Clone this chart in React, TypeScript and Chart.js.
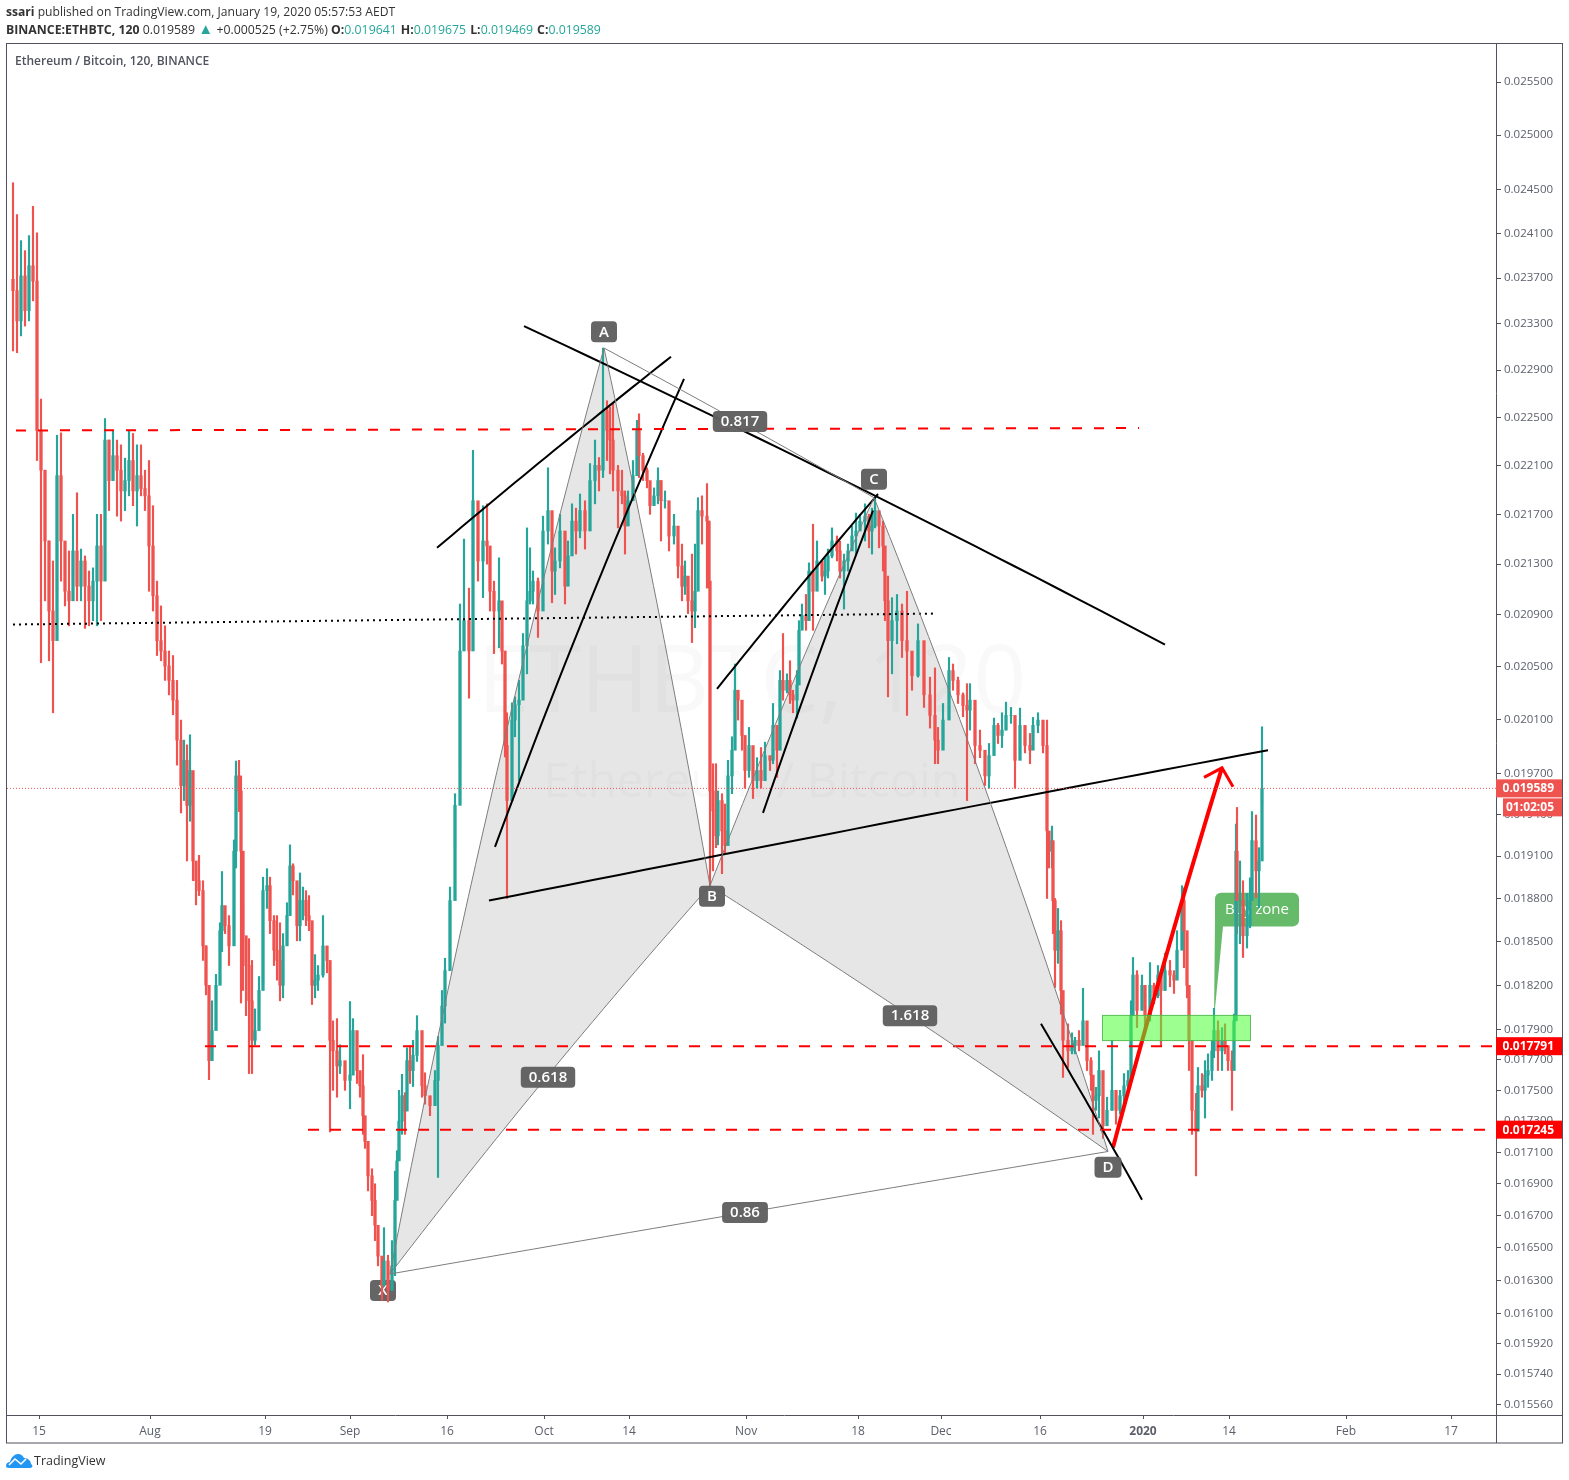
import React, { useEffect, useRef } from "react";
import { Chart, registerables } from "chart.js";
Chart.register(...registerables);

// Prices are in millionths of BTC. Time is in chart slots counted from 15 Jul 2019 (1 day = about 6.5 slots).
// Each candle row: [slot, high, low, close]; a candle opens at the previous close.
const julyRows = [
[-26,24560,23065,23590],[-22,24270,23050,23325],[-18,24035,23195,23720],[-14,23945,23280,23415],[-10,24080,23325,23810],[-6,24345,23500,23675],[-2,24105,22140,22390],[2,22655,20530,22060],[6,22060,21010,21485],[10,21485,20545,20930],[14,21325,20150,20700],[18,22350,21085,22015],[22,22370,21165,21485],[26,21405,20970,21085],[30,21405,20815,21010],[34,21700,21190,21405],[38,21875,21010,21125],[42,21420,21010,21325],[46,21365,20795,21125],[50,21245,20815,21010],[54,21270,20855,21165],[58,21700,20815,21445],[62,21700,20855,21165],[66,22490,21645,22310],[70,22310,21730,21975],[74,22390,21975,22180],[78,22310,21685,22060],[82,22270,21645,21890],[86,22160,21730,21975],[90,22390,21850,22140],[94,22365,21770,21890],[98,22270,21605,22015],[102,22270,21850,21910],
];
const augustRows = [
[106,22060,21730,21850],[110,22140,21085,21445],[114,21770,20930,21050],[118,21165,20585,20700],[122,20970,20545,20620],[126,20815,20395,20505],[130,20620,20285,20395],[134,20585,20135,20245],[138,20395,19760,19945],[142,20095,19410,19610],[145,19945,19500,19795],[148,19910,19065,19465],[151,19985,19350,19720],[154,19570,18925,19065],[157,19025,18755,18925],[160,19105,18820,18855],[164,18925,18370,18470],[167,18470,18135,18200],[170,18030,17570,17695],[173,18095,17735,17895],[177,18275,18070,18200],[181,18630,18430,18575],[183,18990,18430,18750],[186,18730,18555,18610],[190,18680,18335,18470],[195,19215,18600,19135],[197,19790,19015,19680],[200,19795,19420,19570],[202,19680,18080,19135],[204,18755,18165,18540],[207,18535,17995,18335],[210,18520,17610,18095],[213,18370,17610,17830],[216,18040,17800,17895],[220,18260,18070,18165],[224,18950,18215,18855],[228,19010,18730,18890],[231,18950,18555,18645],[235,18680,18335,18440],[238,18680,18235,18370],[241,18630,18095,18200],[244,18555,18115,18470],[248,18770,18480,18680],[251,19180,18785,19030],[254,19045,18825,18925],[258,18890,18505,18610],[261,18980,18505,18785],[264,18880,18650,18785],[267,18855,18610,18680],[270,18820,18575,18645],[273,18630,18070,18200],[276,18410,18115,18235],[279,18335,18165,18270],[284,18680,18255,18470],[288,18430,18285,18370],
];
const septemberRows = [
[291,18290,17230,17830],[294,17960,17500,17760],[298,17975,17455,17660],[301,17800,17610,17695],[306,17660,17500,17565],[311,18090,17380,17600],[314,17975,17800,17895],[318,17755,17545,17630],[321,17615,17455,17530],[324,17735,17215,17335],[326,17300,17125,17170],[329,17170,16855,16950],[333,16995,16700,16795],[336,16900,16545,16640],[339,16590,16390,16450],[343,16390,16180,16270],[345,16625,16265,16420],[349,16455,16170,16240],[353,16545,16325,16390],[356,16980,16330,16795],[358,17110,16970,17045],[360,17500,17060,17300],[363,17605,17215,17465],[366,17485,17215,17365],[368,17780,17455,17695],[371,17795,17545,17630],[374,17830,17525,17730],[378,17995,17690,17895],[383,17660,17455,17530],[386,17615,17410,17465],[391,17455,17335,17400],[396,17630,17455,17565],[399,17855,16940,17795],[403,18165,17855,18060],[406,18385,17945,18300],[411,18880,18365,18785],[416,19550,19160,19465],[421,20985,19740,20620],[425,21500,20645,20855],[430,21110,20260,20620],[434,22225,21165,21810],[439,21485,21165,21325],[444,21770,21035,21485],[448,21785,21300,21445],[451,21325,20930,21085],[455,21165,20600,20930],[460,21350,20645,21010],[463,20775,20520,20620],[466,20520,19820,19905],[468,20150,18800,19500],[473,20225,19890,20095],[476,20270,19970,20210],[480,20395,19645,20245],[484,20755,20520,20660],[488,21590,20445,21010],[491,21430,20985,21085],[494,21245,20985,21165],[499,21190,20725,20930],
];
const octoberRows = [
[504,21685,21300,21565],[509,22080,21460,21730],[513,21380,20995,21245],[516,21430,21060,21325],[521,21700,21270,21565],[526,21485,20985,21125],[529,21485,21220,21365],[533,21785,21460,21645],[537,21750,21380,21565],[541,21865,21510,21730],[546,21810,21420,21565],[551,22115,21700,21975],[556,22310,21785,22100],[560,22165,21890,22060],[564,23090,22000,22555],[568,22640,22140,22390],[571,22585,22030,22310],[574,22615,21890,22060],[579,22100,21590,21890],[583,22060,21785,21850],[586,21890,21380,21605],[589,21890,21620,21810],[594,22140,21865,22015],[598,22475,22080,22390],[600,22530,22000,22180],[604,22200,21975,22060],[608,22080,21915,21975],[611,21915,21700,21770],[615,21915,21785,21850],[619,22080,21785,21975],[622,21975,21485,21810],[626,21890,21750,21810],[630,21700,21405,21525],[635,21700,21460,21605],[639,21460,21190,21285],[643,21460,21010,21125],[646,21325,21060,21205],[649,21165,20910,21010],[653,21380,20685,20930],[656,21460,20800,21085],[659,21835,21350,21730],[663,21850,21460,21685],[668,21950,21110,21645],[670,21645,21110,21165],[671,21165,18890,19570],
];
const novemberRows = [
[674,19770,18995,19425],[677,19770,19160,19245],[679,19570,19180,19500],[683,19550,18975,19280],[686,19475,19120,19175],[689,19795,19260,19680],[693,19970,19550,19870],[696,20520,19970,20320],[699,20300,20095,20245],[703,20095,19870,19980],[706,19945,19590,19720],[710,20040,19670,19905],[714,19890,19515,19645],[718,19815,19590,19720],[722,19890,19590,19645],[726,19930,19660,19830],[731,19815,19720,19795],[734,20220,19770,20055],[738,20020,19670,19870],[741,20470,20170,20395],[744,20755,20245,20320],[748,20445,20300,20395],[751,20545,20220,20285],[754,20320,20150,20245],[758,20470,20110,20360],[760,20855,20470,20780],[763,20985,20800,20895],[767,21060,20780,20855],[770,21310,21085,21245],[774,21620,20780,21085],[778,21485,21190,21325],[783,21300,21165,21205],[786,21350,21060,21245],[789,21420,21190,21365],[793,21590,21350,21485],[798,21525,21325,21405],[801,21485,21190,21245],[805,21380,20945,21325],[809,21460,21245,21405],[813,21605,21430,21525],[817,21710,21380,21565],[821,21700,21590,21645],[826,21785,21485,21685],[830,21700,21430,21565],[833,21750,21380,21605],[836,21835,21590,21730],[840,21670,21430,21605],[844,21645,21245,21445],[846,21245,20855,21010],[849,21205,20270,20700],[853,21035,20445,20855],[858,21060,20675,20930],[863,20985,20570,20700],[868,21085,20130,20620],[873,20570,20320,20430],[879,20830,20420,20700],[885,20490,20190,20285],[891,20420,20035,20130],[896,20490,19770,19945],[899,20040,19770,19870],
];
const decemberRows = [
[904,20220,19890,20095],[910,20570,20270,20470],[914,20520,20320,20395],[919,20420,20220,20285],[924,20300,20120,20205],[928,20370,19500,20170],[931,20370,20020,20245],[936,20150,19770,19905],[941,20020,19815,19870],[946,19795,19610,19680],[950,19920,19590,19830],[955,20110,19945,20055],[959,20070,19920,19980],[963,20150,19890,20020],[967,20230,20020,20130],[972,20190,20070,20130],[976,19920,19590,19795],[981,20185,19850,20055],[986,19995,19850,19905],[991,19995,19770,19870],[994,20115,19970,20055],[999,20150,20000,20095],[1004,20040,19850,19905],[1008,20095,18800,19280],[1010,19260,19015,19135],[1013,19315,19015,19210],[1014,18995,18555,18785],[1016,18800,18185,18440],[1019,18730,18350,18575],[1022,18645,18005,18165],[1024,18005,17585,17830],[1029,17940,17650,17760],[1033,17880,17740,17795],[1036,17850,17740,17830],[1040,17895,17760,17795],[1044,18180,17830,17960],[1048,17830,17630,17695],[1052,17715,17500,17600],[1054,17545,17215,17435],[1057,17520,17370,17465],[1060,17760,17320,17630],[1064,17435,17190,17270],[1068,17455,17300,17370],[1073,17830,17370,17500],[1077,17435,17280,17370],[1081,17500,17345,17465],[1085,17610,17370,17530],[1089,17630,17480,17565],[1092,18095,17610,17995],[1094,18390,18045,18270],[1098,18300,17915,18030],
];
const januaryRows = [
[1103,18270,18115,18200],[1106,18145,17895,17995],[1111,18355,17960,18200],[1115,18215,18075,18130],[1119,18335,18115,18270],[1122,18215,17795,18165],[1126,18420,18165,18300],[1131,18370,18190,18270],[1135,18300,18145,18235],[1138,18575,18280,18440],[1143,18890,18455,18785],[1145,18875,18320,18575],[1148,18300,18115,18200],[1150,18095,17630,17830],[1153,17630,17215,17370],[1157,17480,16950,17235],[1159,17650,17320,17530],[1163,17610,17455,17500],[1166,17695,17320,17600],[1169,17740,17520,17630],[1173,17830,17565,17760],[1175,18045,17715,17895],[1179,17960,17630,17760],[1183,17915,17630,17830],[1186,17940,17740,17795],[1189,17740,17630,17695],[1193,17760,17370,17630],[1195,18005,17740,17960],[1197,19330,18005,19135],[1198,19450,18555,18785],[1201,19065,18485,18785],[1204,18925,18390,18540],[1208,18835,18455,18610],[1211,18945,18595,18785],[1213,19420,18805,19210],[1217,19395,18805,18995],[1220,19160,18735,19065],[1223,20045,19480,19589],
];

const priceTicks = [25500,25000,24500,24100,23700,23300,22900,22500,22100,21700,21300,20900,20500,20100,19700,19400,19100,18800,18500,18200,17900,17700,17500,17300,17100,16900,16700,16500,16300,16100,15920,15740,15560];
const timeTicks = [0,111,226,311,408,505,590,707,819,902,1001,1104,1190,1307,1412];
const timeLabels = ["15","Aug","19","Sep","16","Oct","14","Nov","18","Dec","16","2020","14","Feb","17"];

const lastPrice = 19589;
const supportHigh = 17791;
const supportLow = 17245;

const X = [351,16340], A = [565,23090], B = [671,18890], C = [835,21835], D = [1069,17105];
const labelBehindCandles = [["X",344,16240]] as [string,number,number][];
const patternLabels = [
  ["A",565,23230],["B",673,18815],["C",835,21985],["D",1069,17005],
  ["0.618",509,17585],["0.817",701,22465],["1.618",871,17995],["0.86",706,16720],
] as [string,number,number][];
const blackTrends = [
  [[485,23280],[1126,20670]],
  [[398,21430],[632,23015]],
  [[456,19165],[645,22825]],
  [[450,18785],[1229,19870]],
  [[678,20330],[839,21865]],
  [[724,19410],[834,21730]],
  [[1002,17940],[1103,16800]],
];
const resistanceLine = [[-23,22390],[1100,22410]];
const dottedLine = [[-26,20825],[894,20910]];
const supportHighLine = [[166,supportHigh],[1457,supportHigh]];
const supportLowLine = [[269,supportLow],[1457,supportLow]];
const lastPriceLine = [[-32,lastPrice],[1457,lastPrice]];
const arrowShaft = [[1074,17130],[1183,19740]];
const arrowHead = [[1165,19670],[1183,19740],[1194,19600]];
const buyZoneBox = [1063,1212,18000,17825];
const buyCallout = { left:1176, right:1260, top:18840, bottom:18605, tipX:1175, tipY:17975, tailX:1184 };

const UP = "#26a69a", DOWN = "#ef5350", AXIS = "#50535e", TEXT = "#5d606b";
const FONT = '"Open Sans", sans-serif';

const candleRows = [...julyRows,...augustRows,...septemberRows,...octoberRows,...novemberRows,...decemberRows,...januaryRows];

// a trend line drawn straight in price, as it is on the log axis
function priceLine(a:number[], b:number[]) {
  const out:{x:number,y:number}[] = [];
  for (let i=0;i<=30;i++) {
    const t=i/30;
    out.push({x:a[0]+(b[0]-a[0])*t, y:a[1]+(b[1]-a[1])*t});
  }
  return out;
}
const pts = (l:number[][]) => l.map(p=>({x:p[0],y:p[1]}));

function lineDs(data:any[], color:string, width:number, dash:number[]=[]) {
  return { type:"line", data, borderColor:color, borderWidth:width, borderDash:dash, pointRadius:0, tension:0, fill:false, order:1, parsing:true, borderCapStyle:"butt" };
}

function drawLabels(ctx:any, x:any, y:any, list:[string,number,number][]) {
  ctx.textAlign="center"; ctx.textBaseline="middle";
  ctx.font=`600 15px ${FONT}`;
  list.forEach(([s,d,p])=>{
    const cx=x.getPixelForValue(d), cy=y.getPixelForValue(p);
    const w=Math.max(26,ctx.measureText(s).width+16), h=21;
    ctx.fillStyle="rgba(96,96,96,0.97)";
    ctx.beginPath(); ctx.roundRect(cx-w/2,cy-h/2,w,h,4); ctx.fill();
    ctx.fillStyle="#ffffff";
    ctx.fillText(s,cx,cy+.5);
  });
}

const overlayPlugin = {
  id:"overlay",
  beforeDatasetsDraw(chart:any) {
    const { ctx, scales:{x,y} } = chart;
    ctx.save();
    // watermark
    ctx.textAlign="center"; ctx.textBaseline="middle";
    ctx.fillStyle="rgba(80,83,94,0.035)";
    ctx.font=`93px ${FONT}`;
    ctx.fillText("ETHBTC, 120",752,685);
    ctx.font=`48px ${FONT}`;
    ctx.fillText("Ethereum / Bitcoin",752,783);
    // harmonic triangles
    const poly=(list:any[])=>{
      ctx.beginPath();
      list.forEach((p,i)=>{ const px=x.getPixelForValue(p.x), py=y.getPixelForValue(p.y); if(i===0)ctx.moveTo(px,py); else ctx.lineTo(px,py); });
      ctx.closePath(); ctx.fill();
    };
    ctx.fillStyle="rgba(120,120,120,0.19)";
    poly([...priceLine(X,A),...priceLine(A,B),...priceLine(B,X)]);
    poly([...priceLine(B,C),...priceLine(C,D),...priceLine(D,B)]);
    drawLabels(ctx,x,y,labelBehindCandles);
    // callout
    const l=x.getPixelForValue(buyCallout.left), r=x.getPixelForValue(buyCallout.right);
    const t=y.getPixelForValue(buyCallout.top), b=y.getPixelForValue(buyCallout.bottom);
    ctx.fillStyle="#66bb6a";
    ctx.beginPath();
    ctx.roundRect(l,t,r-l,b-t,6);
    ctx.fill();
    ctx.beginPath();
    ctx.moveTo(l,b-6);
    ctx.lineTo(x.getPixelForValue(buyCallout.tipX),y.getPixelForValue(buyCallout.tipY));
    ctx.lineTo(x.getPixelForValue(buyCallout.tailX),b);
    ctx.closePath();
    ctx.fill();
    ctx.fillStyle="#ffffff";
    ctx.font=`15px ${FONT}`;
    ctx.textAlign="center";
    ctx.fillText("Buy zone",(l+r)/2,(t+b)/2);
    ctx.restore();
  },
  afterDatasetsDraw(chart:any) {
    const { ctx, scales:{x,y} } = chart;
    ctx.save();
    // buy zone box
    const bl=x.getPixelForValue(buyZoneBox[0]), br=x.getPixelForValue(buyZoneBox[1]);
    const bt=y.getPixelForValue(buyZoneBox[2]), bb=y.getPixelForValue(buyZoneBox[3]);
    ctx.fillStyle="rgba(75,255,51,0.55)";
    ctx.fillRect(bl,bt,br-bl,bb-bt);
    ctx.strokeStyle="rgba(76,175,80,0.8)"; ctx.lineWidth=1;
    ctx.strokeRect(bl+.5,bt+.5,br-bl-1,bb-bt-1);
    drawLabels(ctx,x,y,patternLabels);
    ctx.restore();
  },
  afterDraw(chart:any) {
    const { ctx, scales:{y}, chartArea:a } = chart;
    ctx.save();
    // frame and axis lines
    ctx.strokeStyle=AXIS; ctx.lineWidth=1;
    ctx.strokeRect(6.5,43.5,1556,1399.5);
    ctx.beginPath();
    ctx.moveTo(Math.round(a.right)+.5,43.5); ctx.lineTo(Math.round(a.right)+.5,1443);
    ctx.moveTo(6.5,Math.round(a.bottom)+.5); ctx.lineTo(1562.5,Math.round(a.bottom)+.5);
    ctx.stroke();
    // legend text
    ctx.fillStyle=AXIS; ctx.textAlign="left"; ctx.textBaseline="middle";
    ctx.font=`600 12px ${FONT}`;
    ctx.fillText("Ethereum / Bitcoin, 120, BINANCE",15,62);
    // price tags
    const tag=(p:number,color:string)=>{
      const cy=y.getPixelForValue(p);
      ctx.fillStyle=color;
      ctx.fillRect(a.right,cy-9,1562-a.right,18);
      ctx.fillStyle="#fff"; ctx.textAlign="right";
      ctx.font=`bold 12px ${FONT}`;
      ctx.fillText((p/1e6).toFixed(6),1554,cy+.5);
    };
    tag(supportHigh,"#ff0000");
    tag(supportLow,"#ff0000");
    tag(lastPrice,DOWN);
    const cy=y.getPixelForValue(lastPrice);
    ctx.fillStyle=DOWN;
    ctx.fillRect(1503,cy+10,59,18);
    ctx.fillStyle="#fff"; ctx.textAlign="right";
    ctx.font=`bold 12px ${FONT}`;
    ctx.fillText("01:02:05",1554,cy+19.5);
    ctx.restore();
  },
};

export default function App() {
  const ref = useRef<HTMLCanvasElement>(null);
  useEffect(() => {
    document.body.style.margin="0";
    const wicks:any[]=[], bodies:any[]=[], wickCol:string[]=[], bodyCol:string[]=[];
    let prev=candleRows[0][3]+100;
    candleRows.forEach(([s,h,l,c])=>{
      const col=c>=prev?UP:DOWN;
      wicks.push({x:s,y:[l,h]}); bodies.push({x:s,y:[prev,c]});
      wickCol.push(col); bodyCol.push(col);
      prev=c;
    });
    const datasets:any[]=[
      { type:"bar", data:wicks, backgroundColor:wickCol, barThickness:1.5, grouped:false, order:10 },
      { type:"bar", data:bodies, backgroundColor:bodyCol, barThickness:2.6, grouped:false, order:9 },
      lineDs(priceLine(X,A),"#7d7d7d",1),
      lineDs(priceLine(A,B),"#7d7d7d",1),
      lineDs(priceLine(B,X),"#7d7d7d",1),
      lineDs(priceLine(B,C),"#7d7d7d",1),
      lineDs(priceLine(C,D),"#7d7d7d",1),
      lineDs(priceLine(D,B),"#7d7d7d",1),
      lineDs(priceLine(A,C),"#7d7d7d",1),
      lineDs(priceLine(X,D),"#7d7d7d",1),
      lineDs(pts(lastPriceLine),DOWN,1,[1,2]),
      lineDs(pts(resistanceLine),"#ff0000",2,[10,12]),
      lineDs(pts(supportHighLine),"#ff0000",2,[11,11]),
      lineDs(pts(supportLowLine),"#ff0000",2,[11,11]),
      lineDs(pts(dottedLine),"#000000",2,[2,4]),
      ...blackTrends.map(t=>lineDs(priceLine(t[0],t[1]),"#000000",2)),
      lineDs(priceLine(arrowShaft[0],arrowShaft[1]),"#ff0000",4),
      lineDs(pts(arrowHead),"#ff0000",3),
    ];
    const chart=new Chart(ref.current!,{
      type:"bar",
      data:{datasets},
      plugins:[overlayPlugin],
      options:{
        responsive:false, animation:false, events:[],
        layout:{padding:{left:7,top:44,right:7,bottom:37}},
        plugins:{legend:{display:false},tooltip:{enabled:false},title:{display:false}},
        scales:{
          x:{
            type:"linear", min:-32, max:1457, offset:false,
            grid:{offset:false,drawOnChartArea:false,drawTicks:true,tickLength:4,tickColor:AXIS},
            border:{display:false},
            afterBuildTicks:(s:any)=>{s.ticks=timeTicks.map(v=>({value:v}));},
            afterFit:(s:any)=>{s.height=28;},
            ticks:{
              autoSkip:false,maxRotation:0,padding:5,color:TEXT,
              font:(c:any)=>({family:'"Open Sans", sans-serif',size:12,weight:c.tick&&c.tick.value===1104?"bold":"normal"}),
              callback:(_:any,i:number)=>timeLabels[i],
            },
          },
          y:{
            type:"logarithmic", position:"right", min:15502, max:25866,
            grid:{drawOnChartArea:false,drawTicks:true,tickLength:5,tickColor:AXIS},
            border:{display:false},
            afterBuildTicks:(s:any)=>{s.ticks=priceTicks.map(v=>({value:v}));},
            afterFit:(s:any)=>{s.width=66;},
            ticks:{
              autoSkip:false,padding:3,color:TEXT,
              font:{family:'"Open Sans", sans-serif',size:11.5},
              callback:(v:any)=>(Number(v)/1e6).toFixed(6),
            },
          },
        },
      } as any,
    } as any);
    return ()=>chart.destroy();
  },[]);
  const line:React.CSSProperties={position:"absolute",left:6,whiteSpace:"nowrap",font:`12.12px ${FONT}`,color:"#333",lineHeight:"16px"};
  const val:React.CSSProperties={color:UP,marginRight:4};
  return (
    <div style={{position:"absolute",left:0,top:0,width:1569,height:1480,background:"#fff",overflow:"hidden"}}>
      <canvas ref={ref} width={1569} height={1480} style={{display:"block"}}/>
      <div style={{...line,top:4}}><b>ssari</b> published on TradingView.com, January 19, 2020 05:57:53 AEDT</div>
      <div style={{...line,top:20,fontSize:12.3}}>
        <b>BINANCE:ETHBTC, 120</b> 0.019589 <span style={{color:UP,fontSize:15}}>▲</span> +0.000525 (+2.75%) <b>O:</b><span style={val}>0.019641</span><b>H:</b><span style={val}>0.019675</span><b>L:</b><span style={val}>0.019469</span><b>C:</b><span style={val}>0.019589</span>
      </div>
      <svg style={{position:"absolute",left:6,top:1453}} width="27" height="16" viewBox="0 0 27 16">
        <path fill="#2196f3" d="M0 13 C0 10 2 9 4 9 C5 4 9 1 12 1 C15 1 17 3 18 5 C22 5 25 8 25 11 C27 12 27 15 24 15 L3 15 C1 15 0 14 0 13 Z"/>
        <path fill="none" stroke="#fff" strokeWidth="1.6" d="M3 12 L9 6 L15 11 L20 6"/>
      </svg>
      <div style={{...line,left:34,top:1453,fontSize:12.5,color:"#333"}}>TradingView</div>
    </div>
  );
}
